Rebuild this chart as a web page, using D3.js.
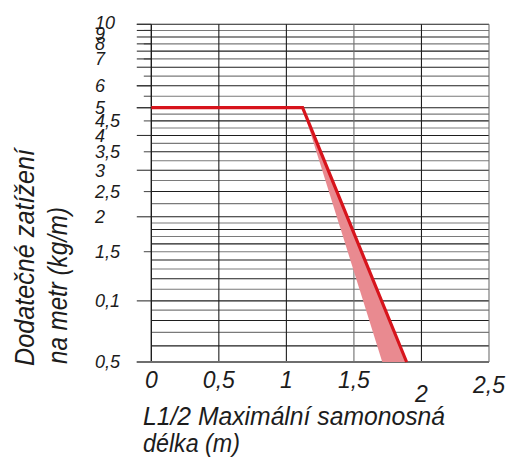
<!DOCTYPE html>
<html>
<head>
<meta charset="utf-8">
<script src="https://cdn.jsdelivr.net/npm/d3@7"></script>
<style>
  body { margin: 0; background: #fff; }
  text { font-family: "Liberation Sans", Arial, sans-serif; font-style: italic; fill: #1c1c1c; }
</style>
</head>
<body>
<div id="chart"></div>
<script>
// x axis: half span (m)
const xTicks = [0, 0.5, 1, 1.5, 2, 2.5];
const xTickLabels = ["0", "0,5", "1", "1,5", "2", "2,5"];

// y axis is made of stacked log cycles (bottom to top), each with integer grid lines
const gridCycles = [[5, 10], [10, 20], [10, 22], [10, 20]];

// labelled y ticks: label, cycle and value inside the cycle
const yTickLabels = ["0,5", "0,1", "1,5", "2", "2,5", "3", "3,5", "4", "4,5", "5", "6", "7", "8", "9", "10"];
const yTickCycle = [0, 0, 1, 1, 2, 2, 2, 2, 2, 2, 3, 3, 3, 3, 3];
const yTickValue = [5, 10, 15, 20, 12, 14, 16, 18, 20, 22, 12, 15, 17, 19, 20];

// load curve and tolerance band (x in m, y as axis label)
const loadX = [0, 1.12, 1.89];
const loadY = ["5", "5", "0,5"];
const bandX = [1.12, 1.89, 1.71];
const bandY = ["5", "0,5", "0,5"];

const width = 512, height = 466;
const margin = { top: 24.3, right: 23, bottom: 104, left: 151.3 };
const innerW = width - margin.left - margin.right;
const innerH = height - margin.top - margin.bottom;

// share of the plot height taken by each cycle, bottom to top
const cycleShare = [0.181, 0.249, 0.323, 0.247];

const svg = d3.select("#chart").append("svg")
  .attr("width", width)
  .attr("height", height);

const g = svg.append("g")
  .attr("transform", `translate(${margin.left},${margin.top})`);

const x = d3.scaleLinear().domain([0, 2.5]).range([0, innerW]);

const breaks = [0];
cycleShare.forEach((s, i) => breaks.push(breaks[i] + s));
const y = d3.scaleLinear()
  .domain(d3.range(gridCycles.length + 1))
  .range(breaks.map(b => innerH * (1 - b)));

// position of value v inside cycle c, in cycle units
function cyc(c, v) {
  const [a, b] = gridCycles[c];
  return c + Math.log(v / a) / Math.log(b / a);
}
function yLabel(lab) {
  const i = yTickLabels.indexOf(lab);
  return y(cyc(yTickCycle[i], yTickValue[i]));
}

// all grid lines
const grid = [];
gridCycles.forEach(([a, b], c) => {
  for (let v = a; v < b; v++) grid.push({ c: c, v: v, u: cyc(c, v) });
});
grid.push({ c: gridCycles.length - 1, v: gridCycles[gridCycles.length - 1][1], u: gridCycles.length });
grid.sort((p, q) => q.u - p.u);

g.selectAll(".hgrid")
  .data(grid.filter(d => d.u > 0))
  .join("line")
  .attr("x1", 0).attr("x2", innerW)
  .attr("y1", d => y(d.u)).attr("y2", d => y(d.u))
  .attr("stroke", (d, i) => i % 2 ? "#7a7a7a" : "#1e1e1e")
  .attr("stroke-width", 1.1);

// ticks left of the axis: every line of the top cycle plus the labelled ones
const ticks = [];
grid.filter(d => d.c === gridCycles.length - 1 || d.u === gridCycles.length - 1)
  .forEach(d => ticks.push({ u: d.u, long: d.v % 2 === 0 }));
yTickLabels.forEach((lab, i) => {
  ticks.push({ u: cyc(yTickCycle[i], yTickValue[i]), long: lab.indexOf(",") < 0 || lab[0] === "0" });
});

g.selectAll(".ytick")
  .data(ticks)
  .join("line")
  .attr("x1", d => d.long ? -14.5 : -7.5).attr("x2", 0)
  .attr("y1", d => y(d.u)).attr("y2", d => y(d.u))
  .attr("stroke", d => d.long ? "#333" : "#555")
  .attr("stroke-width", 1.1);

// vertical grid
g.selectAll(".vgrid")
  .data(xTicks)
  .join("line")
  .attr("x1", d => x(d)).attr("x2", d => x(d))
  .attr("y1", y(gridCycles.length)).attr("y2", innerH)
  .attr("stroke", (d, i) => (i % 2 && i > 2) ? "#707070" : "#1e1e1e")
  .attr("stroke-width", (d, i) => i === 0 ? 1.4 : 1.1);

// baseline
g.append("line")
  .attr("x1", -14.5).attr("x2", innerW)
  .attr("y1", innerH).attr("y2", innerH)
  .attr("stroke", "#6e6e6e")
  .attr("stroke-width", 2);

// tolerance band
g.append("path")
  .datum(bandX.map((v, i) => [x(v), yLabel(bandY[i])]))
  .attr("d", d3.line())
  .attr("fill", "#e98a90")
  .attr("stroke", "none");

// load curve
g.append("path")
  .datum(loadX.map((v, i) => [x(v), yLabel(loadY[i])]))
  .attr("d", d3.line())
  .attr("fill", "none")
  .attr("stroke", "#d7141c")
  .attr("stroke-width", 3.2);

// y tick labels (the top two sit a little off their lines, as printed)
svg.selectAll(".ylab")
  .data(yTickLabels)
  .join("text")
  .attr("x", 95)
  .attr("y", d => margin.top + yLabel(d))
  .attr("dy", d => d === "10" ? "0.24em" : d === "9" ? "0.52em" : "0.36em")
  .style("font-size", "18px")
  .text(d => d);

// x tick labels
svg.selectAll(".xlab")
  .data(xTicks)
  .join("text")
  .attr("x", d => margin.left + x(d))
  .attr("y", d => d === 2 ? 401.7 : d === 2.5 ? 393 : 388.3)
  .attr("text-anchor", "middle")
  .style("font-size", "23px")
  .text((d, i) => xTickLabels[i]);

// x title
svg.append("text")
  .attr("x", 143).attr("y", 425)
  .attr("textLength", 302).attr("lengthAdjust", "spacingAndGlyphs")
  .style("font-size", "25px")
  .text("L1/2 Maximální samonosná");
svg.append("text")
  .attr("x", 143).attr("y", 451.7)
  .attr("textLength", 97).attr("lengthAdjust", "spacingAndGlyphs")
  .style("font-size", "25px")
  .text("délka (m)");

// y title
svg.append("text")
  .attr("transform", "translate(34,366) rotate(-90)")
  .attr("textLength", 217).attr("lengthAdjust", "spacingAndGlyphs")
  .style("font-size", "28px")
  .text("Dodatečné zatížení");
svg.append("text")
  .attr("transform", "translate(67,364) rotate(-90)")
  .attr("textLength", 157).attr("lengthAdjust", "spacingAndGlyphs")
  .style("font-size", "28px")
  .text("na metr (kg/m)");
</script>
</body>
</html>
